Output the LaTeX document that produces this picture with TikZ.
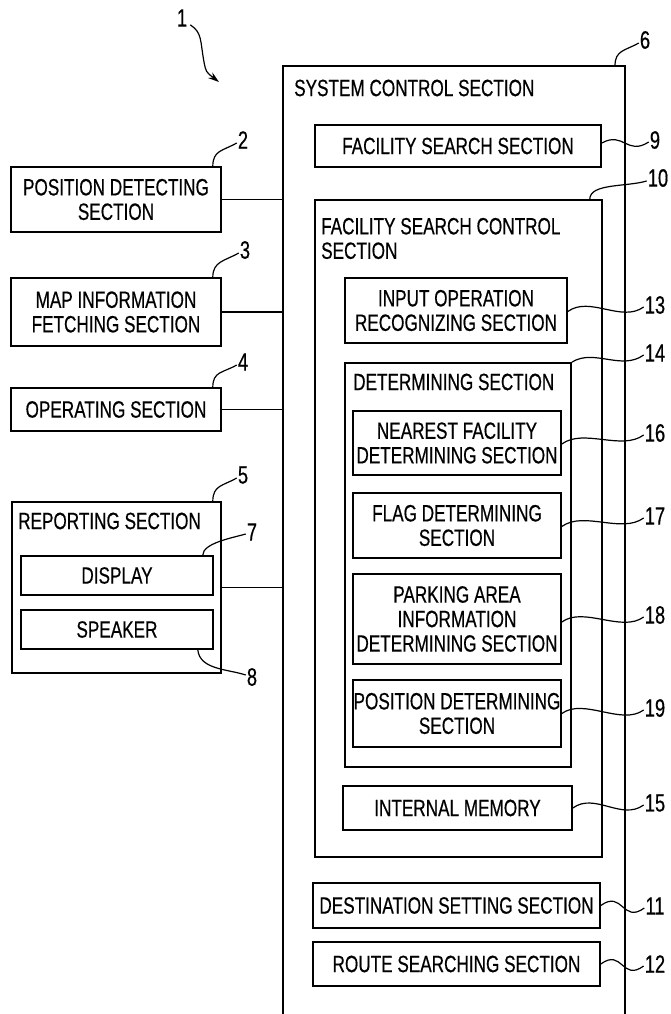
\documentclass[tikz,border=0pt]{standalone}
\usepackage{fontspec}
\setmainfont[FakeStretch=0.73,FakeBold=0.5]{Liberation Sans}
\usetikzlibrary{arrows.meta}
\begin{document}
\begin{tikzpicture}[x=1pt,y=-1pt,
  txt/.style={font=\fontsize{23.5}{24.5}\selectfont, inner sep=0pt},
  box/.style={draw, line width=1.6pt, txt, align=center},
  num/.style={font=\fontsize{25}{25}\selectfont, inner sep=1pt},
  leader/.style={line width=1.2pt},
  conn/.style={line width=1.6pt}]
\path[use as bounding box] (0,0) rectangle (670,1014);

% system control section (open at bottom)
\coordinate (s6) at (283,66);
\coordinate (s6r) at (625,66);
\draw[line width=1.6pt] (283,1014) -- (s6) -- (s6r) -- (625,1014);
\node[txt, anchor=west] (t6) at (294,88) {SYSTEM CONTROL SECTION};

% left side boxes
\node[box, minimum width=210, minimum height=65] (b2) at (116,199.5) {POSITION DETECTING\\SECTION};
\node[box, minimum width=210, minimum height=68] (b3) at (116,312) {MAP INFORMATION\\FETCHING SECTION};
\node[box, minimum width=210, minimum height=43] (b4) at (116,409.5) {OPERATING SECTION};
\node[box, minimum width=209, minimum height=171] (b5) at (116.5,587.5) {};
\node[txt, anchor=west] (t5) at (18,521) {REPORTING SECTION};
\node[box, minimum width=192, minimum height=39] (b7) at (117,575.5) {DISPLAY};
\node[box, minimum width=192, minimum height=39] (b8) at (117,629.5) {SPEAKER};

% connectors to system control section
\foreach \b in {b2,b3,b4,b5} \draw[conn] (\b.east) -- (\b.east -| s6);

% inside system control section
\node[box, minimum width=286, minimum height=42] (b9) at (458,146) {FACILITY SEARCH SECTION};
\node[box, minimum width=287, minimum height=657] (b10) at (458.5,528.5) {};
\node[txt, anchor=west, align=left] (t10) at (321,238.5) {FACILITY SEARCH CONTROL\\SECTION};
\node[box, minimum width=222, minimum height=65] (b13) at (456,310.5) {INPUT OPERATION\\RECOGNIZING SECTION};
\node[box, minimum width=226, minimum height=404] (b14) at (458,565) {};
\node[txt, anchor=west] (t14) at (353,382) {DETERMINING SECTION};
\node[box, minimum width=208, minimum height=64] (b16) at (457,443) {NEAREST FACILITY\\DETERMINING SECTION};
\node[box, minimum width=208, minimum height=65] (b17) at (457,525.5) {FLAG DETERMINING\\SECTION};
\node[box, minimum width=208, minimum height=90] (b18) at (457,619) {PARKING AREA\\INFORMATION\\DETERMINING SECTION};
\node[box, minimum width=208, minimum height=67] (b19) at (457,713.5) {POSITION DETERMINING\\SECTION};
\node[box, minimum width=229, minimum height=44] (b15) at (457.5,808) {INTERNAL MEMORY};
\node[box, minimum width=287, minimum height=45] (b11) at (456.5,905.5) {DESTINATION SETTING SECTION};
\node[box, minimum width=287, minimum height=44] (b12) at (456.5,964) {ROUTE SEARCHING SECTION};

% reference numerals
\node[num] (l1) at (182,18) {1};
\node[num] (l6) at (645,40) {6};
\node[num] (l2) at (243,140) {2};
\node[num] (l9) at (655,140) {9};
\node[num] (l10) at (658,178) {10};
\node[num] (l3) at (245,250) {3};
\node[num] (l13) at (655,305) {13};
\node[num] (l14) at (655,353) {14};
\node[num] (l4) at (243,362) {4};
\node[num] (l16) at (655,433) {16};
\node[num] (l5) at (243,475) {5};
\node[num] (l17) at (655,516) {17};
\node[num] (l7) at (252,532) {7};
\node[num] (l18) at (655,615) {18};
\node[num] (l8) at (252,677) {8};
\node[num] (l19) at (655,708) {19};
\node[num] (l15) at (655,803) {15};
\node[num] (l11) at (655,906) {11};
\node[num] (l12) at (655,964) {12};

% arrow for 1
\coordinate (a1) at (219,82);
\draw[leader, -{Stealth[length=11pt,width=7pt]}] ([shift={(2,-3)}]l1.south east) .. controls +(12,8) and +(-4,-22) .. (204,62) .. controls +(2,10) .. (a1);

% corner-type leaders
\draw[leader] ([xshift=-9]b2.north east) .. controls +(0,-16) and +(-14,8) .. ([yshift=-3]l2.west);
\draw[leader] ([xshift=-9]b3.north east) .. controls +(0,-16) and +(-14,8) .. ([yshift=-3]l3.west);
\draw[leader] ([xshift=-9]b4.north east) .. controls +(0,-16) and +(-14,8) .. ([yshift=-3]l4.west);
\draw[leader] ([xshift=-9]b5.north east) .. controls +(0,-16) and +(-14,8) .. ([yshift=-3]l5.west);
\draw[leader] ([xshift=-10]s6r) .. controls +(0,-16) and +(-14,8) .. ([yshift=-3]l6.west);
\draw[leader] ([xshift=-13]b10.north east) .. controls +(0,-16) and +(-20,6) .. ([yshift=-3]l10.west);
\draw[leader] ([xshift=-11]b7.north east) .. controls +(0,-12) and +(-14,4) .. ([yshift=-2]l7.west);
\draw[leader] ([xshift=-16]b8.south east) .. controls +(2,20) and +(-18,-6) .. ([yshift=2]l8.west);

% tilde-type leaders
\draw[leader] (b14.north east) .. controls +(22,-14) and +(-22,16) .. ([yshift=-2]l14.west);
\draw[leader] ([yshift=3]b9.east) .. controls +(22,-12) and +(-22,14) .. ([yshift=-2]l9.west);
\draw[leader] ([yshift=-1]b13.east) .. controls +(22,-16) and +(-22,16) .. ([yshift=-2]l13.west);
\draw[leader] ([yshift=-1]b16.east) .. controls +(22,-16) and +(-22,16) .. ([yshift=-2]l16.west);
\draw[leader] ([yshift=-1]b17.east) .. controls +(22,-16) and +(-22,16) .. ([yshift=-2]l17.west);
\draw[leader] ([yshift=-3]b18.east) .. controls +(22,-16) and +(-22,16) .. ([yshift=-2]l18.west);
\draw[leader] (b19.east) .. controls +(22,-16) and +(-22,16) .. ([yshift=-2]l19.west);
\draw[leader] (b15.east) .. controls +(22,-16) and +(-22,16) .. ([yshift=-2]l15.west);
\draw[leader] (b11.east) .. controls +(22,-16) and +(-22,16) .. ([yshift=-2]l11.west);
\draw[leader] (b12.east) .. controls +(22,-16) and +(-22,16) .. ([yshift=-2]l12.west);
\end{tikzpicture}
\end{document}
